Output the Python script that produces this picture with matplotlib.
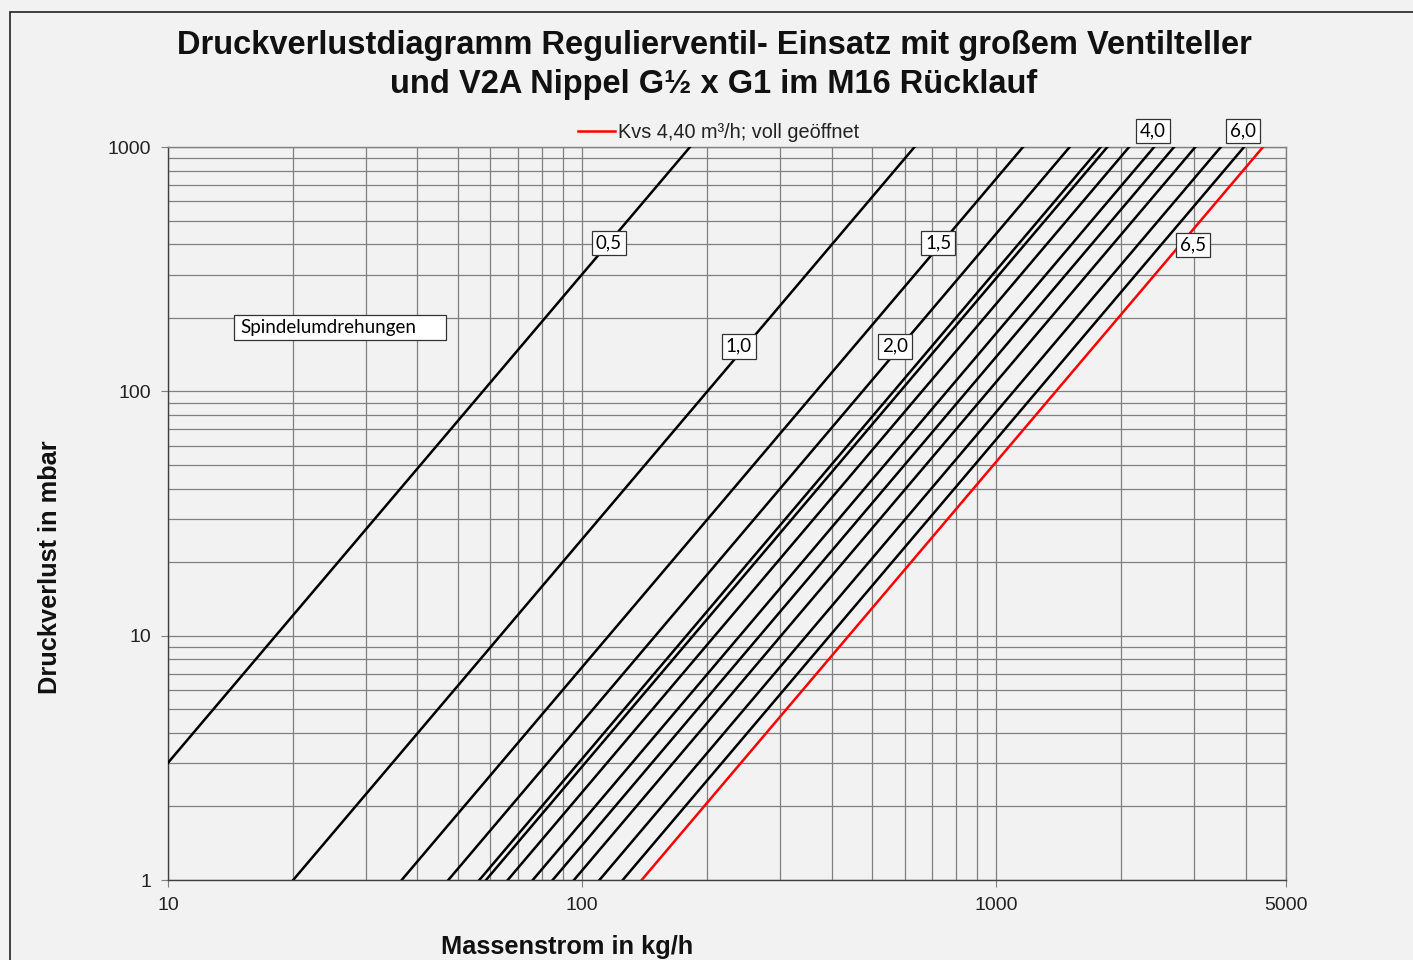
import matplotlib
matplotlib.use('Agg')

import matplotlib.pyplot as plt
import numpy as np
from matplotlib.lines import Line2D
from matplotlib.patches import Rectangle
from matplotlib.ticker import FixedLocator, NullFormatter

# Kv values (m³/h) per spindle turn
TURNS = ["0,5", "1,0", "1,5", "2,0", "2,5", "3,0", "3,5", "4,0", "4,5", "5,0", "5,5", "6,0"]
KV = [0.182, 0.634, 1.159, 1.502, 1.785, 1.852, 2.090, 2.402, 2.683, 3.02, 3.48, 3.96]
KVS = 4.40  # fully open (6,5 turns)

X_TICKS = [10, 100, 1000, 5000]
Y_TICKS = [1, 10, 100, 1000]

# turn labels placed on the chart (label, mass flow, pressure loss)
LABELS = [("0,5", 116, 405), ("1,0", 239, 153), ("1,5", 723, 405), ("2,0", 569, 153),
          ("4,0", 2388, 1164), ("6,0", 3938, 1164), ("6,5", 2983, 397)]

BG = '#f2f2f2'
GRID = '#808080'


def dp_mbar(m, kv):
    """ pressure loss in mbar for mass flow m in kg/h """
    return 1000.0 * (m / 1000.0 / kv) ** 2


def main():
    plt.rcParams['font.family'] = ['Liberation Sans', 'DejaVu Sans']
    fig = plt.figure(figsize=(14.13, 9.6), dpi=100, facecolor=BG)
    ax = fig.add_axes([0.1189, 0.0833, 0.7912, 0.7635])
    ax.set_facecolor(BG)

    # outer frame
    fig.patches.append(Rectangle((10 / 1413, -0.1), 1.2, (948 / 960) + 0.1,
                                 transform=fig.transFigure, fill=False,
                                 edgecolor='#222222', lw=1.2))

    ax.set_xscale('log')
    ax.set_yscale('log')
    ax.set_xlim(10, 5000)
    ax.set_ylim(1, 1000)

    xminor = [k * 10 ** e for e in (1, 2, 3) for k in range(2, 10) if k * 10 ** e < 5000]
    yminor = [k * 10 ** e for e in (0, 1, 2) for k in range(2, 10)]
    ax.xaxis.set_major_locator(FixedLocator(X_TICKS))
    ax.yaxis.set_major_locator(FixedLocator(Y_TICKS))
    ax.xaxis.set_minor_locator(FixedLocator(xminor))
    ax.yaxis.set_minor_locator(FixedLocator(yminor))
    ax.set_xticklabels([str(v) for v in X_TICKS])
    ax.set_yticklabels([str(v) for v in Y_TICKS])
    ax.xaxis.set_minor_formatter(NullFormatter())
    ax.yaxis.set_minor_formatter(NullFormatter())
    ax.tick_params(which='major', length=5, color=GRID, labelsize=14,
                   labelcolor='#222222', pad=7)
    ax.tick_params(which='minor', length=0)
    ax.grid(True, which='both', color=GRID, lw=0.9)
    for s in ax.spines.values():
        s.set_color(GRID)
        s.set_linewidth(1.0)
    ax.spines['bottom'].set_color('#404040')
    ax.spines['left'].set_color('#404040')

    m = np.array([10.0, 5000.0])
    for kv in KV:
        ax.plot(m, dp_mbar(m, kv), color='black', lw=1.8, zorder=3)
    ax.plot(m, dp_mbar(m, KVS), color='red', lw=1.8, zorder=3)

    box = dict(boxstyle='square,pad=0.2', fc='white', ec='#333333', lw=0.9)
    for txt, x, y in LABELS:
        ax.text(x, y, txt, ha='center', va='center', fontsize=13.5, family='Lato',
                bbox=box, zorder=5, clip_on=False)

    ax.add_patch(Rectangle((14.43, 162.3), 46.9 - 14.43, 205.4 - 162.3,
                           fc='white', ec='#333333', lw=0.9, zorder=4))
    ax.text(14.92, 183, "Spindelumdrehungen", ha='left', va='center',
            fontsize=13.5, family='Lato', zorder=5)

    # legend entry for the fully open valve
    fig.add_artist(Line2D([578 / 1413, 615 / 1413], [829 / 960, 829 / 960],
                          color='red', lw=1.8))
    fig.text(618 / 1413, 827 / 960, "Kvs 4,40 m³/h; voll geöffnet", ha='left',
             va='center', fontsize=14.3, color='#222222')

    fig.text(714 / 1413, 895 / 960, "Druckverlustdiagramm Regulierventil- Einsatz mit großem Ventilteller\n"
             "und V2A Nippel G½ x G1 im M16 Rücklauf", ha='center', va='center',
             fontsize=23.5, fontweight='bold', linespacing=1.3, color='#111111')
    fig.text(567 / 1413, 13 / 960, "Massenstrom in kg/h", ha='center', va='center',
             fontsize=18.3, fontweight='bold', color='#111111')
    fig.text(50 / 1413, 393 / 960, "Druckverlust in mbar", ha='center', va='center',
             rotation=90, fontsize=18.3, fontweight='bold', color='#111111')

    fig.savefig('out.png', dpi=100, facecolor=BG)


if __name__ == "__main__":
    main()
